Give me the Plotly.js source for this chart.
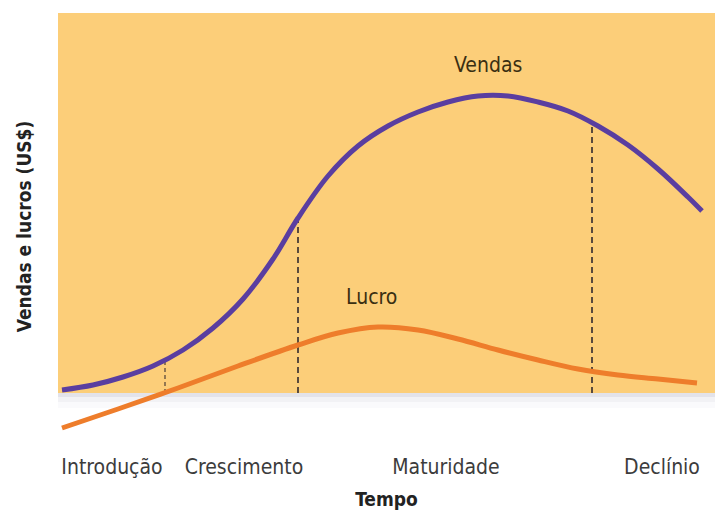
<!DOCTYPE html>
<html>
<head>
<meta charset="utf-8">
<script src="https://cdn.plot.ly/plotly-3.0.1.min.js"></script>
<style>html,body{margin:0;padding:0;background:#fff;}#chart{width:715px;height:515px;}</style>
</head>
<body>
<div id="chart"></div>
<script>
// Time (arbitrary units) and values
const salesTime = [4, 35, 65, 95, 125, 155, 185, 215, 240, 270, 300, 330, 360, 390, 420, 450, 480, 510, 540, 570, 600, 630, 644];
const salesValue = [50, 55, 63, 74, 90, 112, 141, 181, 222, 264, 294, 314, 328, 338, 344, 344, 338, 329, 314, 295, 271, 243, 229];

const profitTime = [4, 60, 120, 180, 240, 280, 320, 360, 400, 440, 480, 520, 560, 600, 639];
const profitValue = [12, 31, 52, 74, 95, 107, 113, 110, 101, 90, 80, 71, 65, 61, 57];

// Stage boundaries (time) and sales value at each boundary
const stageBoundaries = [107, 240, 534];
const boundarySales = [80, 222, 317];

const stageNames = ['Introdução', 'Crescimento', 'Maturidade', 'Declínio'];
const stageLabelTime = [54, 186, 388, 604];

const FONT = '"Liberation Sans Narrow", "DejaVu Sans Condensed", "Arial Narrow", sans-serif';
const baseY = 47; // bottom of the coloured panel (value units)

const traces = [];
stageBoundaries.forEach((b, i) => {
  traces.push({
    x: [b, b], y: [baseY, boundarySales[i]],
    mode: 'lines', type: 'scatter', hoverinfo: 'skip', showlegend: false,
    line: {color: '#5a4a3c', width: i === 0 ? 1.3 : 2, dash: i === 0 ? '4px,3px' : '6px,4px'}
  });
});
traces.push({
  x: profitTime, y: profitValue, name: 'Lucro', mode: 'lines', type: 'scatter',
  line: {color: '#EE7D2B', width: 5, shape: 'spline', smoothing: 1}, showlegend: false
});
traces.push({
  x: salesTime, y: salesValue, name: 'Vendas', mode: 'lines', type: 'scatter',
  line: {color: '#5A3EA0', width: 5, shape: 'spline', smoothing: 1}, showlegend: false
});

const layout = {
  width: 715, height: 515,
  margin: {l: 58, r: 0, t: 13, b: 75, pad: 0},
  paper_bgcolor: '#ffffff', plot_bgcolor: '#ffffff',
  showlegend: false,
  xaxis: {
    range: [0, 657], showgrid: false, zeroline: false, showline: false,
    tickvals: stageLabelTime, ticktext: stageNames, ticks: '',
    ticklabelstandoff: 12,
    tickfont: {family: FONT, size: 21, color: '#3c3c3c'},
    title: {text: '<b>Tempo</b>', font: {family: FONT, size: 19, color: '#222'}, standoff: 14},
    automargin: false, fixedrange: true
  },
  yaxis: {
    range: [0, 427], showgrid: false, zeroline: false, showline: false,
    showticklabels: false, ticks: '',
    title: {text: '<b>Vendas e lucros (US$)</b>', font: {family: FONT, size: 19, color: '#222'}, standoff: 20},
    automargin: false, fixedrange: true
  },
  shapes: [
    {type: 'rect', xref: 'x', yref: 'y', x0: 0, x1: 657, y0: 43, y1: baseY, line: {width: 0}, fillcolor: 'rgba(175,175,195,0.35)', layer: 'below'},
    {type: 'rect', xref: 'x', yref: 'y', x0: 0, x1: 657, y0: 38, y1: 43, line: {width: 0}, fillcolor: 'rgba(195,195,210,0.22)', layer: 'below'},
    {type: 'rect', xref: 'x', yref: 'y', x0: 0, x1: 657, y0: 32, y1: 38, line: {width: 0}, fillcolor: 'rgba(215,215,228,0.12)', layer: 'below'},
    {type: 'rect', xref: 'x', yref: 'y', x0: 0, x1: 657, y0: baseY, y1: 427, line: {width: 0}, fillcolor: '#FCCE79', layer: 'below'}
  ],
  annotations: [
    {x: 430, y: 375, xref: 'x', yref: 'y', text: 'Vendas', showarrow: false, font: {family: FONT, size: 21, color: '#3a2f12'}},
    {x: 313, y: 143, xref: 'x', yref: 'y', text: 'Lucro', showarrow: false, font: {family: FONT, size: 21, color: '#3a2f12'}}
  ]
};

Plotly.newPlot('chart', traces, layout, {displayModeBar: false, staticPlot: true});
</script>
</body>
</html>
